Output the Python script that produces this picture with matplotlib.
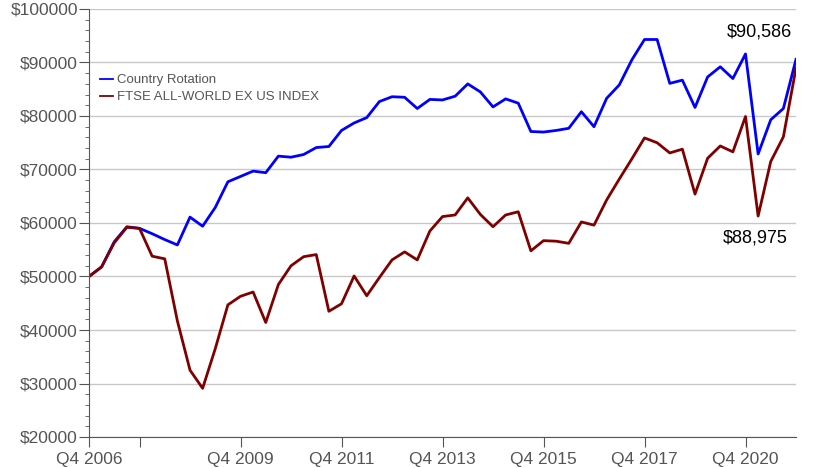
import matplotlib
matplotlib.use('Agg')
import matplotlib.pyplot as plt
from matplotlib.ticker import MultipleLocator, FuncFormatter

plt.rcParams['font.family'] = ['Liberation Sans', 'DejaVu Sans']

# quarterly values, Q4 2006 onward
rotation = [50000, 51800, 56500, 59300, 59000, 58000, 56900, 55900, 61100, 59400,
            62900, 67700, 68700, 69700, 69400, 72500, 72300, 72800, 74100, 74300,
            77300, 78700, 79700, 82700, 83600, 83500, 81400, 83100, 83000, 83700,
            86000, 84500, 81700, 83200, 82400, 77100, 77000, 77300, 77700, 80800,
            78000, 83300, 85800, 90500, 94300, 94300, 86100, 86700, 81600, 87300,
            89200, 87000, 91600, 72900, 79300, 81400, 90586]
ftse = [50000, 51800, 56300, 59200, 59000, 53800, 53300, 41700, 32500, 29100,
        36500, 44700, 46300, 47100, 41400, 48500, 52000, 53700, 54100, 43500,
        44900, 50100, 46400, 49800, 53100, 54600, 53100, 58500, 61200, 61500,
        64700, 61600, 59300, 61500, 62100, 54800, 56700, 56600, 56200, 60200,
        59600, 64300, 68200, 72000, 75900, 75000, 73100, 73800, 65400, 72100,
        74400, 73300, 79900, 61300, 71500, 76100, 88975]
tick_pos = [0, 4, 12, 20, 28, 36, 44, 52]
tick_labels = ['Q4 2006', '', 'Q4 2009', 'Q4 2011', 'Q4 2013', 'Q4 2015',
               'Q4 2017', 'Q4 2020']

grey = '#555555'
fig = plt.figure(figsize=(8.14, 4.68), dpi=100)
ax = fig.add_axes([89 / 814, 1 - 437 / 468, 707 / 814, 428 / 468])

xs = range(len(rotation))
ax.plot(xs, rotation, color='#0000ff', lw=2.0, label='Country Rotation')
ax.plot(xs, ftse, color='#800000', lw=2.0, label='FTSE ALL-WORLD EX US INDEX')

ax.set_xlim(0, len(rotation) - 1)
ax.set_ylim(20000, 100000)
ax.yaxis.set_major_locator(MultipleLocator(10000))
ax.yaxis.set_minor_locator(MultipleLocator(2000))
ax.yaxis.set_major_formatter(FuncFormatter(lambda v, p: '$%d' % v))
ax.set_xticks(tick_pos)
ax.set_xticklabels(tick_labels)

ax.grid(axis='y', color='#c8c8c8', lw=1)
ax.set_axisbelow(True)
for s in ['top', 'right']:
  ax.spines[s].set_visible(False)
for s in ['left', 'bottom']:
  ax.spines[s].set_color(grey)
ax.tick_params(axis='y', which='major', length=7, color=grey, labelcolor=grey,
               labelsize=12.5, pad=1)
ax.tick_params(axis='y', which='minor', length=3, color=grey)
ax.tick_params(axis='x', length=7, color=grey, labelcolor=grey, labelsize=12.5, pad=4)

leg = ax.legend(loc='upper left', bbox_to_anchor=(0.0156, 0.848), frameon=False,
                fontsize=9.5, handlelength=1.0, handletextpad=0.3,
                labelspacing=0.35, borderpad=0, borderaxespad=0)
for t in leg.get_texts():
  t.set_color(grey)
for l in leg.get_lines():
  l.set_linewidth(1.3)

ax.text(759 / 814, 1 - 31.7 / 468, '$90,586', transform=fig.transFigure,
        ha='center', va='center', fontsize=13, color='black')
ax.text(755 / 814, 1 - 238.3 / 468, '$88,975', transform=fig.transFigure,
        ha='center', va='center', fontsize=13, color='black')

fig.savefig('out.png', dpi=100)
